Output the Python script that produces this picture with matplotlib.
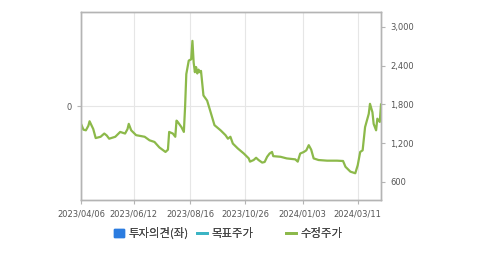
import numpy as np
import matplotlib.pyplot as plt
from matplotlib.lines import Line2D
from matplotlib.patches import Patch

# trading-day index and adjusted price
day = [0, 2, 4, 6, 7, 10, 12, 16, 19, 21, 23, 28, 32, 36, 38, 39, 41, 45,
       52, 56, 60, 64, 69, 71, 72, 75, 77, 78, 79, 82, 84, 85, 86, 88, 90,
       91, 92, 93, 94, 95, 96, 97, 98, 100, 103, 105, 109, 114, 118, 120,
       122, 124, 128, 133, 137, 138, 141, 143, 145, 148, 150, 152, 154, 156,
       157, 163, 168, 175, 177, 179, 182, 184, 186, 188, 190, 194, 201, 209,
       214, 216, 220, 224, 226, 228, 230, 232, 235, 236, 238, 239, 241, 242,
       244, 245]
price = [1500, 1410, 1400, 1470, 1540, 1420, 1280, 1300, 1350, 1320, 1270,
         1300, 1375, 1350, 1420, 1500, 1400, 1325, 1300, 1245, 1220, 1135,
         1065, 1100, 1375, 1350, 1300, 1550, 1530, 1450, 1375, 1760, 2270,
         2480, 2500, 2785, 2450, 2300, 2380, 2280, 2340, 2300, 2320, 1940,
         1860, 1735, 1480, 1400, 1325, 1270, 1300, 1195, 1120, 1040, 965,
         915, 940, 975, 940, 900, 910, 990, 1040, 1065, 1000, 990, 965, 950,
         915, 1040, 1065, 1090, 1170, 1100, 965, 940, 930, 930, 925, 835,
         760, 735, 860, 1065, 1090, 1450, 1655, 1810, 1680, 1500, 1400, 1580,
         1530, 1800]

tick_pos = [0, 43, 89, 134, 181, 226]
tick_lab = ['2023/04/06', '2023/06/12', '2023/08/16', '2023/10/26',
            '2024/01/03', '2024/03/11']
price_ticks = [600, 1200, 1800, 2400, 3000]

fig = plt.figure(figsize=(4.79, 2.54), dpi=100)
ax = fig.add_axes([81 / 479, 1 - 200 / 254, 300 / 479, 188 / 254])
ax2 = ax.twinx()

edge = '#b4b4b4'
txt = '#555555'
for a in (ax, ax2):
    for s in a.spines.values():
        s.set_color(edge)
        s.set_linewidth(1.0)

ax.set_xlim(0, 245)
ax.set_ylim(-1, 1)
ax.set_yticks([0])
ax.set_yticklabels(['0'])
ax.set_xticks(tick_pos)
ax.set_xticklabels(tick_lab)
ax.grid(True, color='#e6e6e6', lw=0.8)
ax.tick_params(colors=edge, labelcolor=txt, labelsize=6, length=3, width=0.8)

ax2.plot(day, price, color='#8cb94a', lw=1.6)
ax2.set_ylim(321, 3232)
ax2.set_yticks(price_ticks)
ax2.set_yticklabels([f'{v:,}' for v in price_ticks])
ax2.tick_params(colors=edge, labelcolor=txt, labelsize=6, length=3, width=0.8)

# legend: three entries placed one by one like the original
entries = [(Patch(color='#2b7ce0'), '투자의견(좌)', 114),
           (Line2D([], [], color='#3ab4c4', lw=2), '목표주가', 197),
           (Line2D([], [], color='#8cb94a', lw=2), '수정주가', 286)]
for h, lab, xpix in entries:
    lg = fig.legend([h], [lab], loc='center left',
                    bbox_to_anchor=(xpix / 479, 1 - 233 / 254),
                    frameon=False, handlelength=0.9, handletextpad=0.4,
                    borderpad=0, borderaxespad=0,
                    prop={'family': ['Noto Sans CJK KR', 'DejaVu Sans'],
                          'size': 8.2},
                    labelcolor='#444444')
    fig.add_artist(lg)

fig.savefig('out.png', dpi=100)
